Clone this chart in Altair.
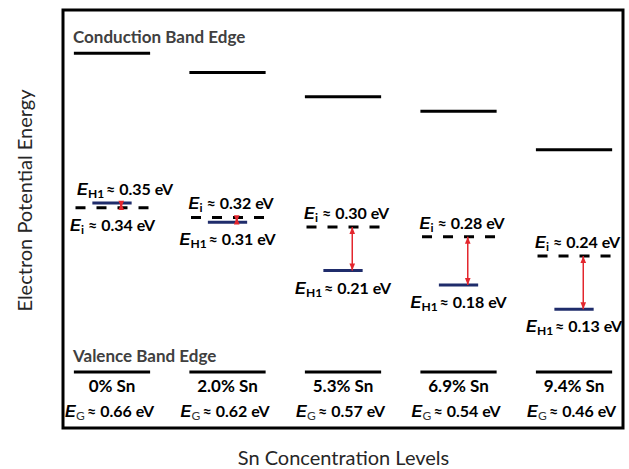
import altair as alt
import pandas as pd

# Sn content of each alloy and the energies (eV, measured from the valence band edge)
sn_levels = ["0% Sn", "2.0% Sn", "5.3% Sn", "6.9% Sn", "9.4% Sn"]
band_gap = [0.66, 0.62, 0.57, 0.54, 0.46]   # E_G: conduction band edge
e_i = [0.34, 0.32, 0.30, 0.28, 0.24]        # E_i level
e_h1 = [0.35, 0.31, 0.21, 0.18, 0.13]       # E_H1 level
edge_labels = ["Conduction Band Edge", "Valence Band Edge"]
x_title = "Sn Concentration Levels"
y_title = "Electron Potential Energy"

FONT = "Lato"
E_FONT = "Liberation Sans"
RED = "#E3262D"
NAVY = "#1F2C6B"
VAL_SIZE = 16

df = pd.DataFrame({"idx": range(len(sn_levels)), "sn": sn_levels,
                   "eg": band_gap, "ei": e_i, "eh1": e_h1, "ev": 0.0})
df["eg_txt"] = [f"≈ {v:.2f} eV" for v in band_gap]

# one row per level label; the higher of the two levels gets its label above the line
rows = []
for i in range(len(sn_levels)):
    rows.append({"idx": i, "kind": "i", "energy": e_i[i], "above": e_i[i] >= e_h1[i],
                 "rest": f"≈ {e_i[i]:.2f} eV"})
    rows.append({"idx": i, "kind": "H1", "energy": e_h1[i], "above": e_h1[i] > e_i[i],
                 "rest": f"≈ {e_h1[i]:.2f} eV"})
labels = pd.DataFrame(rows)

XS = alt.Scale(domain=[-0.4242, 4.424], nice=False, zero=False)
YS = alt.Scale(domain=[-0.116, 0.7495], nice=False, zero=False)
XAX = alt.Axis(title=x_title, labels=False, ticks=False, domain=False, grid=False,
               titleFont=FONT, titleFontSize=20, titleFontWeight="normal",
               titleColor="#262626", titlePadding=20)
YAX = alt.Axis(title=y_title, labels=False, ticks=False, domain=False, grid=False,
               titleFont=FONT, titleFontSize=20, titleFontWeight="normal",
               titleColor="#262626", titlePadding=28, titleY=190)


def xq(field):
    return alt.X(f"{field}:Q", scale=XS, axis=XAX)


def yq(field):
    return alt.Y(f"{field}:Q", scale=YS, axis=YAX)


base = alt.Chart(df).transform_calculate(
    x0="datum.idx - 0.33", x1="datum.idx + 0.33",
    d0="datum.idx - 0.316", d1="datum.idx + 0.316",
    h0="datum.idx - 0.17", h1="datum.idx + 0.17",
    ax="datum.idx + 0.08",
)

conduction = base.mark_rule(color="black", strokeWidth=3).encode(
    x=xq("x0"), x2="x1", y=yq("eg"))
valence = base.mark_rule(color="black", strokeWidth=3).encode(
    x=xq("x0"), x2="x1", y=yq("ev"))
ei_line = base.mark_rule(color="black", strokeWidth=3, strokeDash=[10, 11]).encode(
    x=xq("d0"), x2="d1", y=yq("ei"))
eh1_line = base.mark_rule(color=NAVY, strokeWidth=3).encode(
    x=xq("h0"), x2="h1", y=yq("eh1"))

# double-headed arrow between E_i and E_H1
UP = "M0,0L-0.4,1L0.4,1Z"
DOWN = "M0,0L-0.4,-1L0.4,-1Z"
arrows = base.transform_calculate(
    shp_i=f"datum.ei >= datum.eh1 ? '{UP}' : '{DOWN}'",
    shp_h=f"datum.ei >= datum.eh1 ? '{DOWN}' : '{UP}'",
)
arrow_rule = arrows.mark_rule(color=RED, strokeWidth=1.5).encode(
    x=xq("ax"), y=yq("ei"), y2="eh1")
head_i = arrows.mark_point(filled=True, size=196, color=RED, opacity=1, strokeWidth=0).encode(
    x=xq("ax"), y=yq("ei"), shape=alt.Shape("shp_i:N", scale=None))
head_h = arrows.mark_point(filled=True, size=196, color=RED, opacity=1, strokeWidth=0).encode(
    x=xq("ax"), y=yq("eh1"), shape=alt.Shape("shp_h:N", scale=None))

# horizontal advance of the subscript text before the value part
SUB_ADV = {"i": 7, "H1": 18, "G": 11}


def e_label(data, sub, start, dy, yenc, sub_weight="bold", sub_color="black"):
    """E with a subscript followed by the value text, starting `start` px from the column."""
    b = alt.Chart(data).encode(x=xq("idx"), y=yenc)
    common = dict(align="left", baseline="middle")
    e = b.mark_text(text="E", font=E_FONT, fontSize=VAL_SIZE, fontStyle="italic",
                    fontWeight="bold", color="black", dx=start, dy=dy, **common)
    s = b.mark_text(text=sub, font=FONT, fontSize=12, fontWeight=sub_weight, color=sub_color,
                    dx=start + 11, dy=dy + 4, **common)
    field = "eg_txt" if sub == "G" else "rest"
    r = b.mark_text(font=FONT, fontSize=VAL_SIZE, fontWeight="bold", color="black",
                    dx=start + 11 + SUB_ADV[sub], dy=dy, **common).encode(
        text=alt.Text(f"{field}:N"))
    return [e, s, r]


# label start offsets per (level, side)
STARTS = {("i", True): -39, ("i", False): -42, ("H1", True): -35, ("H1", False): -48}
level_layers = []
for (kind, above), start in STARTS.items():
    part = labels[(labels["kind"] == kind) & (labels["above"] == above)]
    if len(part):
        level_layers += e_label(part, kind, start, -13 if above else 18, yq("energy"))

gap_layers = e_label(df, "G", -47, 0, alt.value(402),
                     sub_weight="normal", sub_color="#333333")

sn_text = alt.Chart(df).mark_text(font=FONT, fontSize=17, fontWeight="bold", color="black",
                                  baseline="middle").encode(
    x=xq("idx"), y=alt.value(377), text="sn:N")

cond_text = alt.Chart(pd.DataFrame({"t": [edge_labels[0]]})).mark_text(
    font=FONT, fontSize=17, fontWeight="bold", color="#404040", align="left",
    baseline="middle").encode(x=alt.value(10), y=alt.value(28), text="t:N")
val_text = alt.Chart(pd.DataFrame({"t": [edge_labels[1]]})).mark_text(
    font=FONT, fontSize=17, fontWeight="bold", color="#404040", align="left",
    baseline="middle").encode(x=alt.value(10), y=alt.value(347), text="t:N")

chart = alt.layer(
    conduction, valence, ei_line, eh1_line, arrow_rule, head_i, head_h,
    *level_layers, *gap_layers, sn_text, cond_text, val_text,
).properties(
    width=560, height=418,
    background="white",
    autosize=alt.AutoSizeParams(type="none"),
    padding={"left": 63, "top": 10, "right": 6, "bottom": 41},
).configure_view(stroke="black", strokeWidth=3)

chart.save("out.html", embed_options={"renderer": "svg", "actions": False})
